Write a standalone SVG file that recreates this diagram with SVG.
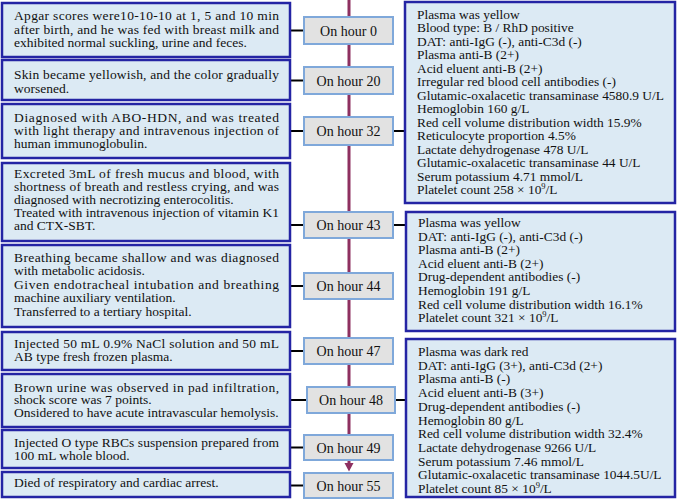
<svg xmlns="http://www.w3.org/2000/svg" width="677" height="499" viewBox="0 0 677 499">
<defs>
<style>
.box{fill:#dceaf4;stroke:#2424a4;stroke-width:2.5}
.hb{fill:#e2e2e2;stroke:#7fa8da;stroke-width:2}
.t{font-family:"Liberation Serif","Times New Roman",serif;font-size:13.5px;fill:#111}
.r{font-family:"Liberation Serif","Times New Roman",serif;font-size:13.4px;fill:#111}
.h{font-family:"Liberation Serif","Times New Roman",serif;font-size:14px;fill:#111;text-anchor:middle}
.c{stroke:#000;stroke-width:2;fill:none}
.tl{stroke:#8e3060;stroke-width:3;fill:none}
</style>
</defs>
<g id="timeline">
<line class="tl" x1="349" y1="0" x2="349" y2="465"/>
<polygon points="344.5,463 353.5,463 349,471.5" fill="#8e3060"/>
</g>
<g id="connectors">
<line class="c" x1="290" y1="30.5" x2="304" y2="30.5"/>
<line class="c" x1="290" y1="80.5" x2="304" y2="80.5"/>
<line class="c" x1="290" y1="131" x2="304" y2="131"/>
<line class="c" x1="290" y1="225" x2="304" y2="225"/>
<line class="c" x1="290" y1="286" x2="304" y2="286"/>
<line class="c" x1="290" y1="351" x2="304" y2="351"/>
<line class="c" x1="290" y1="400" x2="307" y2="400"/>
<line class="c" x1="290" y1="447.5" x2="304" y2="447.5"/>
<line class="c" x1="290" y1="485.5" x2="304" y2="485.5"/>
<line class="c" x1="393" y1="131" x2="405" y2="131"/>
<line class="c" x1="393" y1="225" x2="406" y2="225"/>
<line class="c" x1="395" y1="400" x2="406" y2="400"/>
</g>
<g id="left1"><rect class="box" x="2" y="3" width="288" height="54"/>
<text class="t"><tspan x="14" y="20" textLength="265" lengthAdjust="spacing">Apgar scores were10-10-10 at 1, 5 and 10 min</tspan><tspan x="14" y="33.5" textLength="265" lengthAdjust="spacing">after birth, and he was fed with breast milk and</tspan><tspan x="14" y="47">exhibited normal suckling, urine and feces.</tspan></text></g>
<g id="left2"><rect class="box" x="2" y="60" width="288" height="40"/>
<text class="t"><tspan x="14" y="79" textLength="265" lengthAdjust="spacing">Skin became yellowish, and the color gradually</tspan><tspan x="14" y="92.5">worsened.</tspan></text></g>
<g id="left3"><rect class="box" x="2" y="104" width="288" height="54"/>
<text class="t"><tspan x="14" y="121.5" textLength="265" lengthAdjust="spacing">Diagnosed with ABO-HDN, and was treated</tspan><tspan x="14" y="135" textLength="265" lengthAdjust="spacing">with light therapy and intravenous injection of</tspan><tspan x="14" y="148">human immunoglobulin.</tspan></text></g>
<g id="left4"><rect class="box" x="2" y="163" width="288" height="78"/>
<text class="t"><tspan x="14" y="178" textLength="265" lengthAdjust="spacing">Excreted 3mL of fresh mucus and blood, with</tspan><tspan x="14" y="191" textLength="265" lengthAdjust="spacing">shortness of breath and restless crying, and was</tspan><tspan x="14" y="204">diagnosed with necrotizing enterocolitis.</tspan><tspan x="14" y="217" textLength="265" lengthAdjust="spacing">Treated with intravenous injection of vitamin K1</tspan><tspan x="14" y="230">and CTX-SBT.</tspan></text></g>
<g id="left5"><rect class="box" x="2" y="245" width="288" height="82"/>
<text class="t"><tspan x="14" y="262" textLength="265" lengthAdjust="spacing">Breathing became shallow and was diagnosed</tspan><tspan x="14" y="275">with metabolic acidosis.</tspan><tspan x="14" y="289" textLength="265" lengthAdjust="spacing">Given endotracheal intubation and breathing</tspan><tspan x="14" y="302">machine auxiliary ventilation.</tspan><tspan x="14" y="315.5">Transferred to a tertiary hospital.</tspan></text></g>
<g id="left6"><rect class="box" x="2" y="332" width="288" height="38"/>
<text class="t"><tspan x="14" y="347.5" textLength="265" lengthAdjust="spacing">Injected 50 mL 0.9% NaCl solution and 50 mL</tspan><tspan x="14" y="361">AB type fresh frozen plasma.</tspan></text></g>
<g id="left7"><rect class="box" x="2" y="374" width="288" height="53"/>
<text class="t"><tspan x="14" y="391.5" textLength="265" lengthAdjust="spacing">Brown urine was observed in pad infiltration,</tspan><tspan x="14" y="404">shock score was 7 points.</tspan><tspan x="14" y="417">Onsidered to have acute intravascular hemolysis.</tspan></text></g>
<g id="left8"><rect class="box" x="2" y="430" width="288" height="38"/>
<text class="t"><tspan x="14" y="446.5" textLength="265" lengthAdjust="spacing">Injected O type RBCs suspension prepared from</tspan><tspan x="14" y="459.5">100 mL whole blood.</tspan></text></g>
<g id="left9"><rect class="box" x="2" y="472" width="288" height="25"/>
<text class="t" x="14" y="487">Died of respiratory and cardiac arrest.</text></g>
<g id="hour0"><rect class="hb" x="304" y="17" width="89" height="27"/><text class="h" x="348.5" y="35.5">On hour 0</text></g>
<g id="hour20"><rect class="hb" x="304" y="67" width="89" height="27"/><text class="h" x="348.5" y="85.5">On hour 20</text></g>
<g id="hour32"><rect class="hb" x="304" y="117" width="89" height="28"/><text class="h" x="348.5" y="136">On hour 32</text></g>
<g id="hour43"><rect class="hb" x="304" y="212" width="89" height="26"/><text class="h" x="348.5" y="230">On hour 43</text></g>
<g id="hour44"><rect class="hb" x="304" y="273" width="89" height="26"/><text class="h" x="348.5" y="291">On hour 44</text></g>
<g id="hour47"><rect class="hb" x="304" y="338" width="89" height="26"/><text class="h" x="348.5" y="356">On hour 47</text></g>
<g id="hour48"><rect class="hb" x="307" y="387" width="88" height="26"/><text class="h" x="351" y="405">On hour 48</text></g>
<g id="hour49"><rect class="hb" x="304" y="435" width="89" height="25"/><text class="h" x="348.5" y="452.5">On hour 49</text></g>
<g id="hour55"><rect class="hb" x="304" y="473" width="89" height="25"/><text class="h" x="348.5" y="490.5">On hour 55</text></g>
<g id="right1"><rect class="box" x="405" y="2" width="270" height="201"/>
<text class="r"><tspan x="417" y="18.5">Plasma was yellow</tspan><tspan x="417" y="32">Blood type: B / RhD positive</tspan><tspan x="417" y="45.5">DAT: anti-IgG (-), anti-C3d (-)</tspan><tspan x="417" y="59">Plasma anti-B (2+)</tspan><tspan x="417" y="72.5">Acid eluent anti-B (2+)</tspan><tspan x="417" y="86">Irregular red blood cell antibodies (-)</tspan><tspan x="417" y="99.5">Glutamic-oxalacetic transaminase 4580.9 U/L</tspan><tspan x="417" y="113">Hemoglobin 160 g/L</tspan><tspan x="417" y="126.5">Red cell volume distribution width 15.9%</tspan><tspan x="417" y="140">Reticulocyte proportion 4.5%</tspan><tspan x="417" y="153.5">Lactate dehydrogenase 478 U/L</tspan><tspan x="417" y="167">Glutamic-oxalacetic transaminase 44 U/L</tspan><tspan x="417" y="180.5">Serum potassium 4.71 mmol/L</tspan><tspan x="417" y="194">Platelet count 258 × 10</tspan><tspan font-size="8.5" dy="-5">9</tspan><tspan dy="5">/L</tspan></text></g>
<g id="right2"><rect class="box" x="406" y="212" width="269" height="119"/>
<text class="r"><tspan x="418" y="227">Plasma was yellow</tspan><tspan x="418" y="240.6">DAT: anti-IgG (-), anti-C3d (-)</tspan><tspan x="418" y="254.2">Plasma anti-B (2+)</tspan><tspan x="418" y="267.8">Acid eluent anti-B (2+)</tspan><tspan x="418" y="281.4">Drug-dependent antibodies (-)</tspan><tspan x="418" y="295">Hemoglobin 191 g/L</tspan><tspan x="418" y="308.6">Red cell volume distribution width 16.1%</tspan><tspan x="418" y="322.2">Platelet count 321 × 10</tspan><tspan font-size="8.5" dy="-5">9</tspan><tspan dy="5">/L</tspan></text></g>
<g id="right3"><rect class="box" x="406" y="339" width="269" height="158"/>
<text class="r"><tspan x="418" y="356">Plasma was dark red</tspan><tspan x="418" y="369.7">DAT: anti-IgG (3+), anti-C3d (2+)</tspan><tspan x="418" y="383.4">Plasma anti-B (-)</tspan><tspan x="418" y="397.1">Acid eluent anti-B (3+)</tspan><tspan x="418" y="410.8">Drug-dependent antibodies (-)</tspan><tspan x="418" y="424.5">Hemoglobin 80 g/L</tspan><tspan x="418" y="438.2">Red cell volume distribution width 32.4%</tspan><tspan x="418" y="451.9">Lactate dehydrogenase 9266 U/L</tspan><tspan x="418" y="465.6">Serum potassium 7.46 mmol/L</tspan><tspan x="418" y="479.3">Glutamic-oxalacetic transaminase 1044.5U/L</tspan><tspan x="418" y="493">Platelet count 85 × 10</tspan><tspan font-size="8.5" dy="-5">9</tspan><tspan dy="5">/L</tspan></text></g>
</svg>
